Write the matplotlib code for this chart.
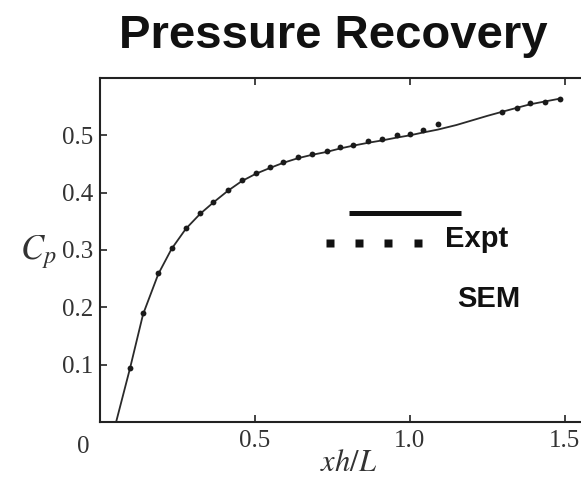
import matplotlib
matplotlib.use("Agg")
import matplotlib.pyplot as plt
from matplotlib.lines import Line2D

# experimental points (dots)
expt_x = [0.097, 0.139, 0.188, 0.231, 0.277, 0.323, 0.366, 0.412, 0.457, 0.503,
          0.548, 0.591, 0.638, 0.684, 0.731, 0.774, 0.817, 0.865, 0.909, 0.957,
          1.000, 1.043, 1.090, 1.297, 1.345, 1.387, 1.435, 1.484]
expt_cp = [0.094, 0.190, 0.260, 0.303, 0.338, 0.364, 0.383, 0.404, 0.422, 0.434,
           0.444, 0.453, 0.462, 0.467, 0.472, 0.479, 0.484, 0.490, 0.493, 0.500,
           0.502, 0.510, 0.519, 0.540, 0.547, 0.556, 0.559, 0.564]

# SEM curve
sem_x = [0.052, 0.097, 0.139, 0.188, 0.231, 0.277, 0.323, 0.366, 0.412, 0.457,
         0.503, 0.548, 0.591, 0.638, 0.684, 0.731, 0.774, 0.817, 0.865, 0.909,
         0.957, 1.000, 1.043, 1.090, 1.150, 1.200, 1.250, 1.297, 1.345, 1.387,
         1.435, 1.484]
sem_cp = [0.000, 0.094, 0.188, 0.258, 0.302, 0.337, 0.363, 0.383, 0.403, 0.420,
          0.433, 0.443, 0.452, 0.460, 0.466, 0.471, 0.477, 0.482, 0.487, 0.491,
          0.496, 0.500, 0.505, 0.510, 0.518, 0.526, 0.534, 0.541, 0.548, 0.554,
          0.559, 0.564]

xticks = [0, 0.5, 1.0, 1.5]
xtick_labels = ["", "0.5", "1.0", "1.5"]
yticks = [0.1, 0.2, 0.3, 0.4, 0.5]
ytick_labels = ["0.1", "0.2", "0.3", "0.4", "0.5"]

W, H = 581, 490
fig = plt.figure(figsize=(W / 100, H / 100), dpi=100)
fig.patch.set_facecolor("white")

ax = fig.add_axes([100 / W, 1 - 422 / H, 1 - 100 / W, (422 - 78) / H])
ax.plot(sem_x, sem_cp, color="#2a2a2a", lw=1.3)
ax.plot(expt_x, expt_cp, "o", color="#1a1a1a", ms=4.2, mec="none")

ax.set_xlim(0, 1.552)
ax.set_ylim(0, 0.6)
ax.spines["right"].set_visible(False)
for s in ["left", "bottom", "top"]:
    ax.spines[s].set_linewidth(1.5)
    ax.spines[s].set_color("#222222")

serif = "Liberation Serif"
ax.set_xticks(xticks)
ax.set_xticklabels(xtick_labels, family=serif, fontsize=18, color="#333333")
ax.set_yticks(yticks)
ax.set_yticklabels(ytick_labels, family=serif, fontsize=18, color="#333333")
ax.tick_params(direction="in", length=5, width=1.2, top=True, color="#222222")
ax.tick_params(axis="x", pad=6)
ax.tick_params(axis="y", pad=5)
ax.annotate("0", xy=(0, 0), xycoords="data", xytext=(-12, -18),
            textcoords="offset points", ha="center", va="center",
            family=serif, fontsize=18, color="#333333")

fig.text(38 / W, 1 - 252 / H, "$C_p$", fontsize=25, ha="center", va="center",
         color="#333333", math_fontfamily="stix")
fig.text(349 / W, 1 - 462 / H, "$xh/L$", fontsize=22, ha="center", va="center",
         color="#333333", math_fontfamily="stix")

fig.text(333 / W, 1 - 36 / H, "Pressure Recovery", family="Liberation Sans",
         weight="bold", fontsize=34, ha="center", va="center", color="#111111")

# hand-drawn legend block
fig.add_artist(Line2D([349 / W, 461 / W], [1 - 213 / H, 1 - 213 / H],
                      transform=fig.transFigure, color="#111111", lw=3.6,
                      solid_capstyle="butt"))
for px in [330, 359, 388, 418]:
    fig.add_artist(Line2D([px / W], [1 - 243 / H], transform=fig.transFigure,
                          marker="s", ms=6, color="#111111", mec="none", lw=0))
fig.text(445 / W, 1 - 239 / H, "Expt", family="Liberation Sans", weight="bold",
         fontsize=21, ha="left", va="center", color="#111111")
fig.text(457 / W, 1 - 299 / H, "SEM", family="Liberation Sans", weight="bold",
         fontsize=21, ha="left", va="center", color="#111111")

fig.savefig("out.png", dpi=100, facecolor="white")
